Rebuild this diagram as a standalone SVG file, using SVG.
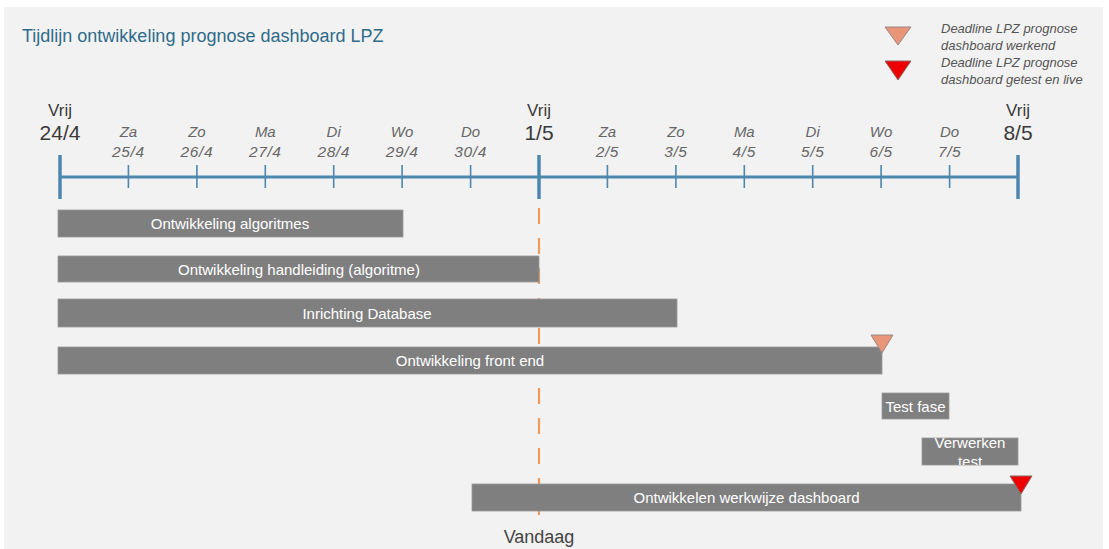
<svg xmlns="http://www.w3.org/2000/svg" width="1109" height="549" viewBox="0 0 1109 549">
<style>
.title{font-family:"Liberation Sans",Arial,sans-serif;font-size:18px;fill:#2f6b8a}
.vrij{font-family:"Liberation Sans",Arial,sans-serif;font-size:17px;fill:#3a3a3a;text-anchor:middle}
.major{font-family:"Liberation Sans",Arial,sans-serif;font-size:21px;fill:#3a3a3a;text-anchor:middle}
.day{font-family:"Liberation Sans",Arial,sans-serif;font-size:15px;font-style:italic;fill:#666;text-anchor:middle}
.date{font-family:"Liberation Sans",Arial,sans-serif;font-size:15.5px;font-style:italic;fill:#666;text-anchor:middle;letter-spacing:0.6px}
.axis{stroke:#4d87ae;stroke-width:3;fill:none}
.tick{stroke:#4d87ae;stroke-width:1.6}
.mtick{stroke:#4d87ae;stroke-width:3.5}
.bar{fill:#7f7f7f;stroke:#9a9a9a;stroke-width:0.8}
.bt{font-family:"Liberation Sans",Arial,sans-serif;font-size:15px;fill:#ffffff;text-anchor:middle}
.leg{font-family:"Liberation Sans",Arial,sans-serif;font-size:13px;font-style:italic;fill:#555}
.today{stroke:#ee9b5c;stroke-width:2.2;stroke-dasharray:16 14}
.tri1{fill:#e8957a;stroke:#9a8a84;stroke-width:1}
.tri2{fill:#ee0000;stroke:#8a6a6a;stroke-width:1}
</style>
<defs>
<clipPath id="clipVT"><rect x="922" y="438" width="96" height="27"/></clipPath>
</defs>
<rect x="0" y="0" width="1109" height="549" fill="#ffffff"/>
<rect x="4" y="7" width="1099" height="542" fill="#f2f2f2"/>
<text class="title" x="22" y="42">Tijdlijn ontwikkeling prognose dashboard LPZ</text>

<g id="legend">
<polygon class="tri1" points="885,27 911,27 898,45"/>
<text class="leg" x="941" y="33">Deadline LPZ prognose</text>
<text class="leg" x="941" y="50">dashboard werkend</text>
<polygon class="tri2" points="885,61 911,61 898,80"/>
<text class="leg" x="941" y="67">Deadline LPZ prognose</text>
<text class="leg" x="941" y="84">dashboard getest en live</text>
</g>

<g id="timeline">
<line class="axis" x1="60" y1="177" x2="1018" y2="177"/>
<line class="mtick" x1="60" y1="155" x2="60" y2="199"/>
<line class="mtick" x1="539" y1="155" x2="539" y2="199"/>
<line class="mtick" x1="1018" y1="155" x2="1018" y2="199"/>
<g class="tick">
<line x1="128.4" y1="165" x2="128.4" y2="188"/>
<line x1="196.9" y1="165" x2="196.9" y2="188"/>
<line x1="265.3" y1="165" x2="265.3" y2="188"/>
<line x1="333.7" y1="165" x2="333.7" y2="188"/>
<line x1="402.1" y1="165" x2="402.1" y2="188"/>
<line x1="470.6" y1="165" x2="470.6" y2="188"/>
<line x1="607.4" y1="165" x2="607.4" y2="188"/>
<line x1="675.9" y1="165" x2="675.9" y2="188"/>
<line x1="744.3" y1="165" x2="744.3" y2="188"/>
<line x1="812.7" y1="165" x2="812.7" y2="188"/>
<line x1="881.1" y1="165" x2="881.1" y2="188"/>
<line x1="949.6" y1="165" x2="949.6" y2="188"/>
</g>
<text class="vrij" x="60" y="116">Vrij</text>
<text class="major" x="60" y="140">24/4</text>
<text class="vrij" x="539" y="116">Vrij</text>
<text class="major" x="539" y="140">1/5</text>
<text class="vrij" x="1018" y="116">Vrij</text>
<text class="major" x="1018" y="140">8/5</text>
<text class="day" x="128.4" y="137">Za</text><text class="date" x="128.4" y="157">25/4</text>
<text class="day" x="196.9" y="137">Zo</text><text class="date" x="196.9" y="157">26/4</text>
<text class="day" x="265.3" y="137">Ma</text><text class="date" x="265.3" y="157">27/4</text>
<text class="day" x="333.7" y="137">Di</text><text class="date" x="333.7" y="157">28/4</text>
<text class="day" x="402.1" y="137">Wo</text><text class="date" x="402.1" y="157">29/4</text>
<text class="day" x="470.6" y="137">Do</text><text class="date" x="470.6" y="157">30/4</text>
<text class="day" x="607.4" y="137">Za</text><text class="date" x="607.4" y="157">2/5</text>
<text class="day" x="675.9" y="137">Zo</text><text class="date" x="675.9" y="157">3/5</text>
<text class="day" x="744.3" y="137">Ma</text><text class="date" x="744.3" y="157">4/5</text>
<text class="day" x="812.7" y="137">Di</text><text class="date" x="812.7" y="157">5/5</text>
<text class="day" x="881.1" y="137">Wo</text><text class="date" x="881.1" y="157">6/5</text>
<text class="day" x="949.6" y="137">Do</text><text class="date" x="949.6" y="157">7/5</text>
</g>

<g id="connectors">
<line class="today" x1="539" y1="208" x2="539" y2="515"/>
</g>

<g id="bar-algoritmes">
<rect class="bar" x="58" y="210" width="345" height="27"/>
<text class="bt" x="230" y="229">Ontwikkeling algoritmes</text>
</g>
<g id="bar-handleiding">
<rect class="bar" x="58" y="256" width="481" height="26"/>
<text class="bt" x="299" y="274.5">Ontwikkeling handleiding (algoritme)</text>
</g>
<g id="bar-database">
<rect class="bar" x="58" y="299" width="619" height="28"/>
<text class="bt" x="367" y="318.5">Inrichting Database</text>
</g>
<g id="bar-frontend">
<rect class="bar" x="58" y="347" width="824" height="27"/>
<text class="bt" x="470" y="366">Ontwikkeling front end</text>
</g>
<g id="bar-testfase">
<rect class="bar" x="882" y="393" width="67" height="26"/>
<text class="bt" x="915.5" y="412">Test fase</text>
</g>
<g id="bar-verwerken">
<rect class="bar" x="922" y="438" width="96" height="27"/>
<g clip-path="url(#clipVT)">
<text class="bt" x="970" y="448">Verwerken</text>
<text class="bt" x="970" y="467">test</text>
</g>
</g>
<g id="bar-werkwijze">
<rect class="bar" x="472" y="484" width="549" height="27"/>
<text class="bt" x="746.5" y="503">Ontwikkelen werkwijze dashboard</text>
</g>

<g id="milestone-werkend">
<polygon class="tri1" points="871,335 893,335 882,353"/>
</g>
<g id="milestone-live">
<polygon class="tri2" points="1010,476 1032,476 1021,494"/>
</g>

<g id="label-vandaag">
<text x="539" y="543" style="font-family:'Liberation Sans',Arial,sans-serif;font-size:18px;fill:#444;text-anchor:middle">Vandaag</text>
</g>
</svg>
